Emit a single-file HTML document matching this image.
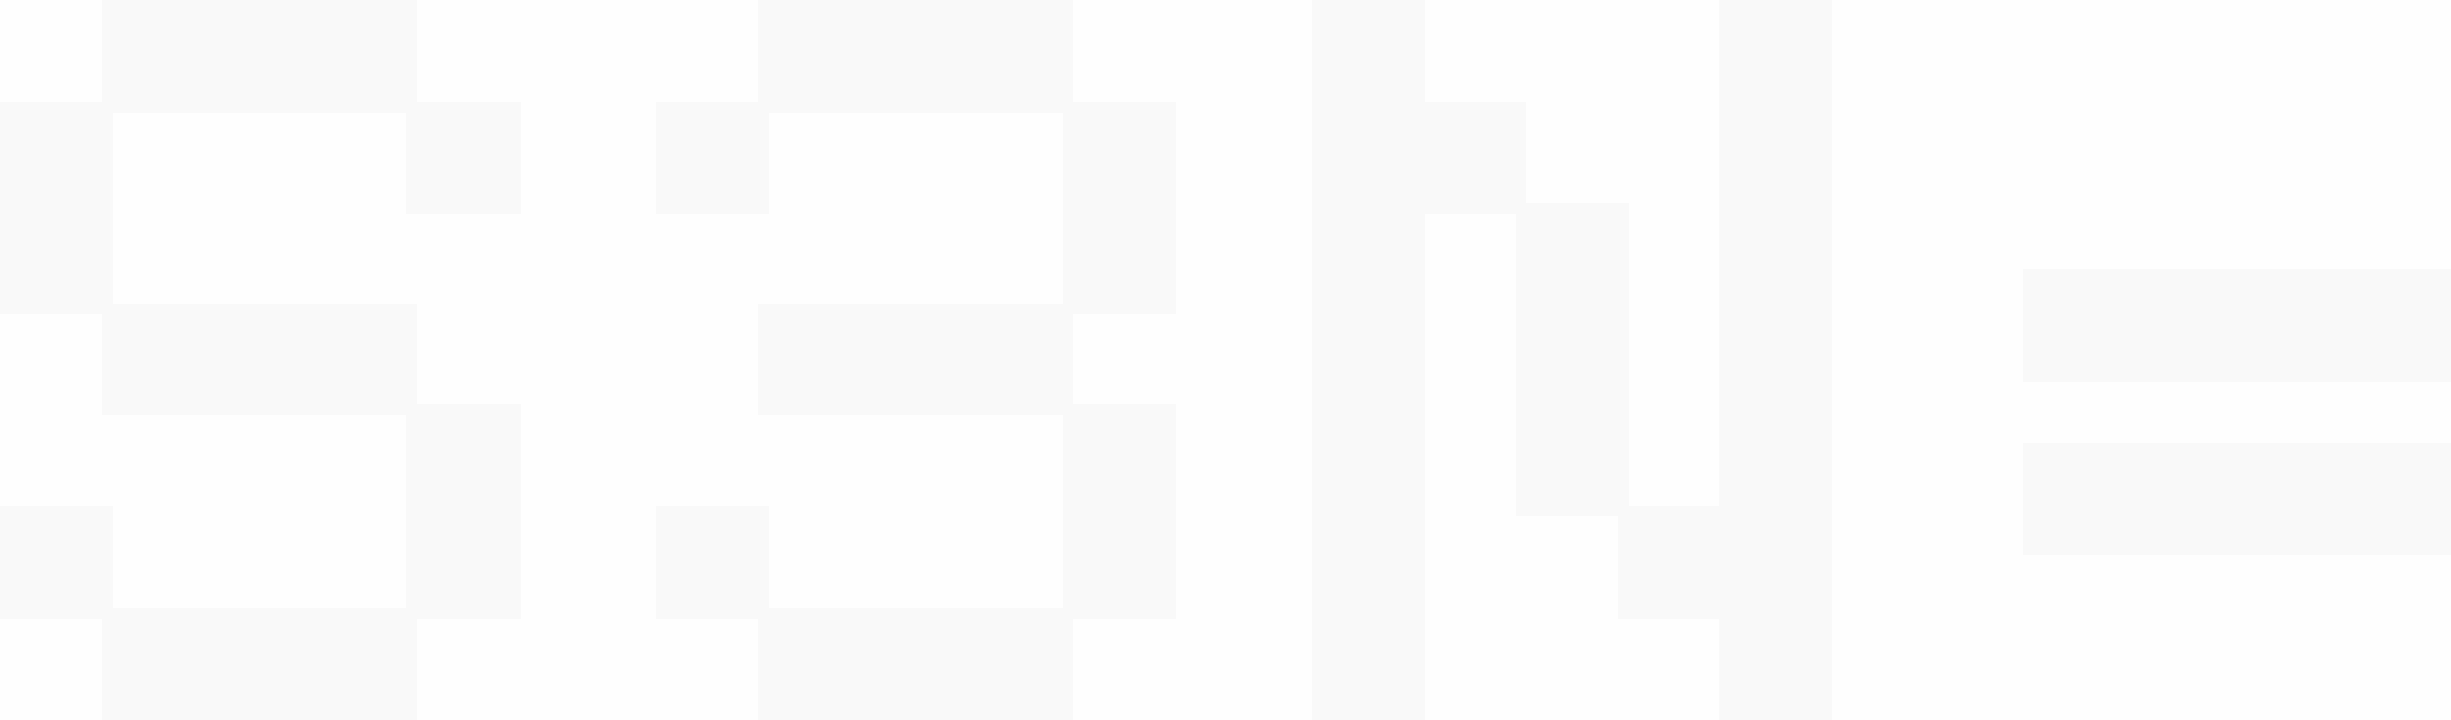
<!DOCTYPE html>
<html><head><meta charset="utf-8"><title>SSN=</title>
<style>
html,body{margin:0;padding:0;background:#fefefe;}
body{width:2451px;height:720px;overflow:hidden;}
svg{display:block;}
.sr{position:absolute;left:-9999px;font-family:"Liberation Sans",sans-serif;}
</style></head>
<body>
<span class="sr">SSN=</span>
<svg width="2451" height="720" viewBox="0 0 2451 720" fill="#f9f9f9">
<rect width="2451" height="720" fill="#fefefe"/>
<g>
<rect x="102" y="0" width="315" height="113"/>
<rect x="0" y="102" width="113" height="212"/>
<rect x="406" y="102" width="115" height="112"/>
<rect x="102" y="304" width="315" height="111"/>
<rect x="406" y="404" width="115" height="215"/>
<rect x="0" y="506" width="113" height="113"/>
<rect x="102" y="608" width="315" height="112"/>
</g>
<g>
<rect x="758" y="0" width="315" height="113"/>
<rect x="656" y="102" width="113" height="112"/>
<rect x="1063" y="102" width="113" height="212"/>
<rect x="758" y="304" width="315" height="111"/>
<rect x="1063" y="404" width="113" height="215"/>
<rect x="656" y="506" width="113" height="113"/>
<rect x="758" y="608" width="315" height="112"/>
</g>
<g>
<rect x="1312" y="0" width="113" height="720"/>
<rect x="1425" y="102" width="101" height="112"/>
<rect x="1516" y="203" width="113" height="313"/>
<rect x="1618" y="506" width="101" height="113"/>
<rect x="1719" y="0" width="113" height="720"/>
</g>
<g>
<rect x="2023" y="269" width="428" height="113"/>
<rect x="2023" y="443" width="428" height="112"/>
</g>
</svg>
</body></html>
